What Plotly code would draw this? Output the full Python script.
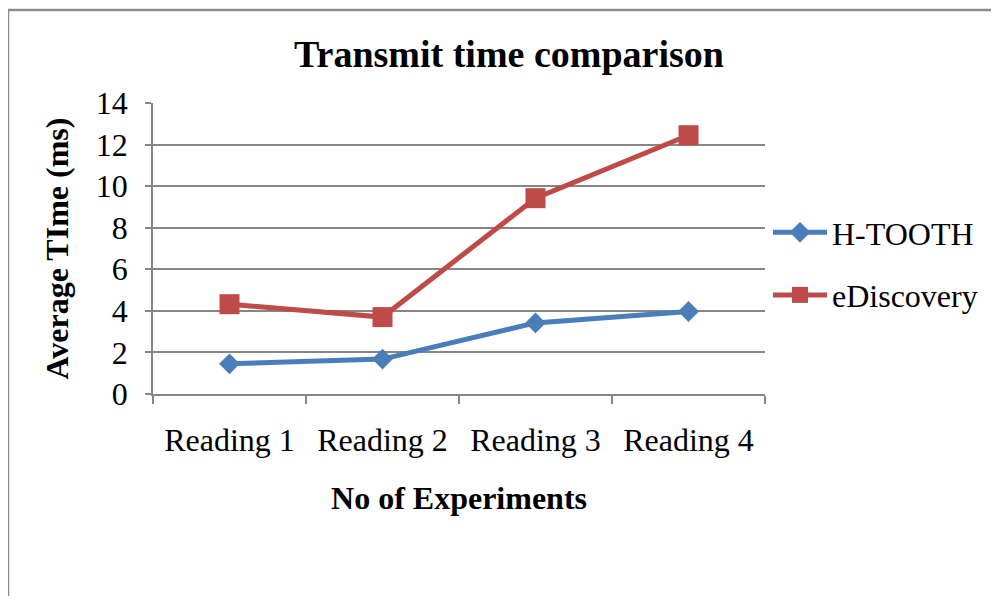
import plotly.graph_objects as go

categories = ["Reading 1", "Reading 2", "Reading 3", "Reading 4"]
h_tooth = [1.45, 1.68, 3.42, 3.97]
ediscovery = [4.32, 3.70, 9.42, 12.45]
y_ticks = [0, 2, 4, 6, 8, 10, 12, 14]

FONT = "Liberation Serif, Times New Roman, serif"
GRID = "#868686"

fig = go.Figure()
fig.add_trace(go.Scatter(
    x=categories, y=h_tooth, name="H-TOOTH", mode="lines+markers",
    line=dict(color="#4A7EBB", width=5),
    marker=dict(symbol="diamond", size=16, color="#4A7EBB"),
    legendgroup="a",
))
fig.add_trace(go.Scatter(
    x=categories, y=ediscovery, name="eDiscovery", mode="lines+markers",
    line=dict(color="#BE4B48", width=5),
    marker=dict(symbol="square", size=20, color="#BE4B48"),
    legendgroup="b",
))

# page has an 8px body margin: work in reference pixels minus 8
OFF = 8
W, H = 999 - OFF, 604 - 2 * OFF
L, R, T, B = 153 - OFF, 765 - OFF, 103 - OFF, 394 - OFF

def px_x(p):
    return (p - OFF - L) / (R - L)
def px_y(p):
    return (B - (p - OFF)) / (B - T)

fig.update_layout(
    width=W, height=H,
    margin=dict(l=L, r=W - R, t=T, b=H - B, pad=0),
    paper_bgcolor="white", plot_bgcolor="white",
    font=dict(family=FONT, size=32, color="black"),
    title=dict(text="<b>Transmit time comparison</b>", x=(509 - OFF) / W, xanchor="center",
               y=1 - (54 - OFF) / H, yanchor="middle", font=dict(size=38, family=FONT)),
    showlegend=True,
    legend=dict(x=px_x(768), xanchor="left", y=px_y(205), yanchor="top",
                font=dict(size=32, family=FONT), tracegroupgap=18,
                bgcolor="rgba(0,0,0,0)", itemwidth=54),
    xaxis=dict(type="category", tickson="boundaries", ticks="outside", ticklen=8,
               tickcolor=GRID, tickwidth=1.5, showline=True, linecolor=GRID, linewidth=1.5,
               showgrid=False, tickfont=dict(size=32, family=FONT), ticklabelstandoff=17,
               title=dict(text="<b>No of Experiments</b>", font=dict(size=32, family=FONT), standoff=29),
               range=[-0.5, 3.5]),
    yaxis=dict(range=[0, 14], tickvals=y_ticks, ticks="outside", ticklen=6,
               tickcolor=GRID, tickwidth=1.5, showline=True, linecolor=GRID, linewidth=1.5,
               showgrid=True, gridcolor=GRID, gridwidth=1.5, zeroline=False,
               tickfont=dict(size=32, family=FONT), ticklabelstandoff=11,
               title=dict(text="<b>Average TIme (ms)</b>", font=dict(size=32, family=FONT), standoff=18)),
)

# outer chart frame (top and left edges)
fig.add_shape(type="line", xref="paper", yref="paper",
              x0=px_x(8), x1=px_x(8), y0=px_y(620), y1=px_y(10),
              line=dict(color="#8C8C8C", width=2.5))
fig.add_shape(type="line", xref="paper", yref="paper",
              x0=px_x(8), x1=px_x(1010), y0=px_y(10), y1=px_y(10),
              line=dict(color="#8C8C8C", width=2.5))

fig.write_html("out.html")
